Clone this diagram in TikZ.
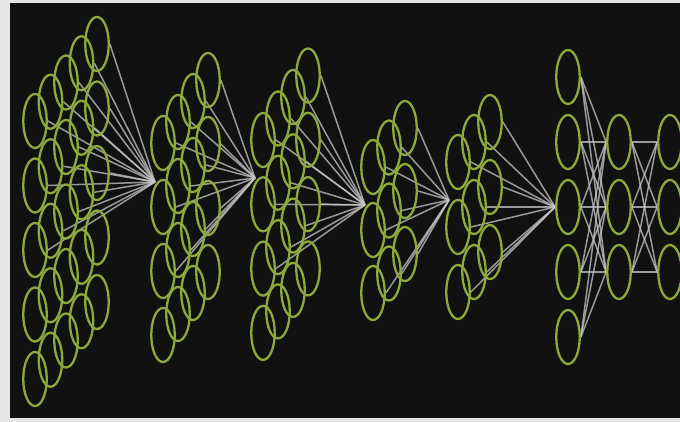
\documentclass[tikz,border=0pt]{standalone}
\usetikzlibrary{shapes.geometric}
\definecolor{bg}{HTML}{111111}
\definecolor{frame}{HTML}{E6E6E6}
\definecolor{neur}{HTML}{8CAA3C}
\definecolor{wirec}{HTML}{C8C8C8}
\pgfdeclarelayer{back}
\pgfdeclarelayer{wires}
\pgfsetlayers{back,wires,main}
\begin{document}
\begin{tikzpicture}[x=1pt,y=-1pt,
  neuron/.style={ellipse, draw=neur, line width=2.3pt, minimum width=23.5pt, minimum height=54pt, inner sep=0pt},
  wire/.style={draw=wirec, line width=1.5pt, opacity=0.75}]
\useasboundingbox (0,0) rectangle (680,422);
\begin{pgfonlayer}{back}
\fill[frame] (0,0) rectangle (680,422);
\fill[bg] (10,3) rectangle (680,418);
\end{pgfonlayer}
\clip (10,3) rectangle (680,418);
% block 1: 5 rows x 5 deep
\foreach \r in {0,...,4}
  \foreach \d in {0,...,4}
    \node[neuron] (a-\r-\d) at ({35+\d*15.5},{121+\r*64.5-\d*19.25}) {};
% block 2: 4 x 4
\foreach \r in {0,...,3}
  \foreach \d in {0,...,3}
    \node[neuron] (b-\r-\d) at ({163+\d*15},{143+\r*64-\d*21}) {};
% block 3: 4 x 4
\foreach \r in {0,...,3}
  \foreach \d in {0,...,3}
    \node[neuron] (c-\r-\d) at ({263+\d*15},{140+\r*64.3-\d*21.5}) {};
% block 4: 3 x 3
\foreach \r in {0,...,2}
  \foreach \d in {0,...,2}
    \node[neuron] (d-\r-\d) at ({373+\d*16},{167+\r*63-\d*19.5}) {};
% block 5: 3 x 3
\foreach \r in {0,...,2}
  \foreach \d in {0,...,2}
    \node[neuron] (e-\r-\d) at ({458+\d*16},{162+\r*65-\d*20}) {};
% dense layers
\foreach \k in {0,...,4}
  \node[neuron] (f-\k) at (568,{77+\k*65}) {};
\foreach \k in {0,...,2} {
  \node[neuron] (g-\k) at (619,{142+\k*65}) {};
  \node[neuron] (h-\k) at (670,{142+\k*65}) {};
}
% convergence points
\coordinate (cb) at (155,182);
\coordinate (cc) at (255,178);
\coordinate (cd) at (365,205);
\coordinate (ce) at (449,200);
\begin{pgfonlayer}{wires}
\foreach \r in {0,1,2}
  \foreach \d in {0,...,4}
    \draw[wire] (a-\r-\d.east) -- (cb);
\foreach \r in {0,1,2}
  \foreach \d in {0,...,3}
    \draw[wire] (b-\r-\d.east) -- (cc);
\foreach \r in {0,1,2}
  \foreach \d in {0,...,3}
    \draw[wire] (c-\r-\d.east) -- (cd);
\foreach \r in {0,1,2}
  \foreach \d in {0,...,2}
    \draw[wire] (d-\r-\d.east) -- (ce);
\foreach \r in {0,1,2}
  \foreach \d in {0,...,2}
    \draw[wire] (e-\r-\d.east) -- (f-2.west);
\foreach \i in {0,...,4}
  \foreach \j in {0,...,2}
    \draw[wire] (f-\i.east) -- (g-\j.west);
\foreach \i in {0,...,2}
  \foreach \j in {0,...,2}
    \draw[wire] (g-\i.east) -- (h-\j.west);
\end{pgfonlayer}
\end{tikzpicture}
\end{document}
